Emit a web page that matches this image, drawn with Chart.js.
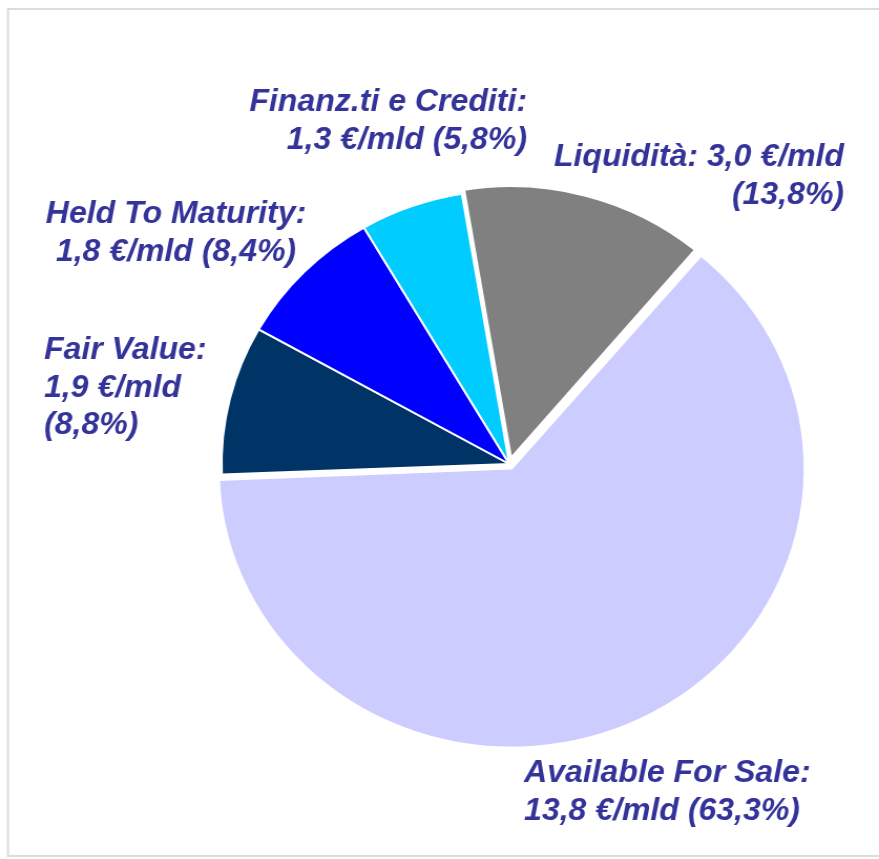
<!DOCTYPE html>
<html>
<head>
<meta charset="utf-8">
<script src="https://cdn.jsdelivr.net/npm/chart.js@4/dist/chart.umd.min.js"></script>
<style>
html, body { margin: 0; padding: 0; background: #fff; overflow: hidden; }
#pie { display: block; }
</style>
</head>
<body>
<canvas id="pie" width="837" height="859" style="width: 879px; height: 859px;"></canvas>
<script>
// data
var categories = ["Liquidità", "Available For Sale", "Fair Value", "Held To Maturity", "Finanz.ti e Crediti"];
var amounts = [3.0, 13.8, 1.9, 1.8, 1.3];   // €/mld
var shares = [13.8, 63.3, 8.8, 8.4, 5.8];    // %
var colors = ["#808080", "#CCCCFF", "#003366", "#0000FF", "#00CCFF"];
var explode = [16, 20, 0, 0, 0];
var gaps = [4, 2, 2, 2, 2];

// the original picture is a bit wider than tall, canvas gets stretched by css
var SX = 879 / 837;

function fmt(n) {
    return n.toFixed(1).replace(".", ",");
}

var labelLines = [
    [categories[0] + ": " + fmt(amounts[0]) + " €/mld", "(" + fmt(shares[0]) + "%)"],
    [categories[1] + ":", fmt(amounts[1]) + " €/mld (" + fmt(shares[1]) + "%)"],
    [categories[2] + ":", fmt(amounts[2]) + " €/mld", "(" + fmt(shares[2]) + "%)"],
    [categories[3] + ":", fmt(amounts[3]) + " €/mld (" + fmt(shares[3]) + "%)"],
    [categories[4] + ":", fmt(amounts[4]) + " €/mld (" + fmt(shares[4]) + "%)"]
];
// where each label block sits (x, first baseline, alignment)
var labelLayout = [
    {x: 844, y: 166, align: "right"},
    {x: 524, y: 782, align: "left"},
    {x: 44, y: 359, align: "left"},
    {x: 176, y: 223, align: "center"},
    {x: 527, y: 111, align: "right"}
];

var labelsPlugin = {
    id: "pieLabels",
    beforeDraw: function(chart) {
        var c = chart.ctx;
        c.save();
        c.strokeStyle = "#dcdcdc";
        c.lineWidth = 2;
        c.strokeRect(8 / SX, 9, 900, 847);
        c.restore();
    },
    afterDraw: function(chart) {
        var c = chart.ctx;
        c.save();
        c.fillStyle = "#333399";
        c.font = "italic bold 30.5px 'Liberation Sans', Arial, sans-serif";
        c.textBaseline = "alphabetic";
        labelLines.forEach(function(lines, i) {
            var pos = labelLayout[i];
            c.textAlign = pos.align;
            lines.forEach(function(t, j) {
                c.fillText(t, pos.x / SX, pos.y + j * 37.5);
            });
        });
        c.restore();
    }
};

var ctx = document.getElementById("pie");
var chartPie = new Chart(ctx, {
    type: "pie",
    data: {
        labels: categories,
        datasets: [{
            data: shares,
            backgroundColor: colors,
            borderColor: "#ffffff",
            borderWidth: gaps,
            offset: explode
        }]
    },
    options: {
        responsive: false,
        animation: false,
        devicePixelRatio: 1,
        rotation: -9.5,
        radius: 274,
        layout: {
            padding: {left: 199, right: 66, top: 190, bottom: 121}
        },
        plugins: {
            legend: {display: false},
            tooltip: {enabled: false}
        }
    },
    plugins: [labelsPlugin]
});
</script>
</body>
</html>
